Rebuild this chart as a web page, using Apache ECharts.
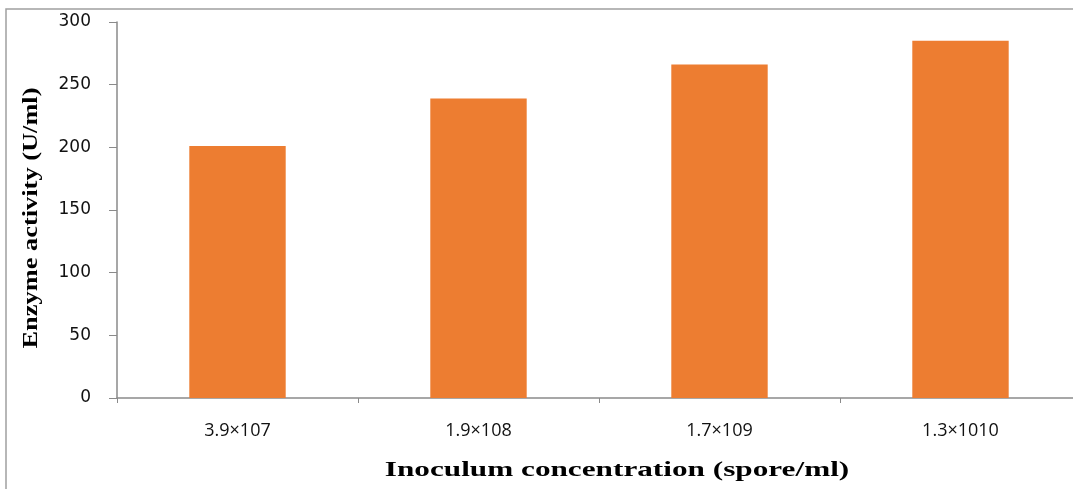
<!DOCTYPE html>
<html>
<head>
<meta charset="utf-8">
<script src="https://cdn.jsdelivr.net/npm/echarts@6/dist/echarts.min.js"></script>
<style>
html,body{margin:0;padding:0;background:#fff;}
#chart{width:1073px;height:489px;}
</style>
</head>
<body>
<div id="chart"></div>
<script>
const categories = ['3.9×107', '1.9×108', '1.7×109', '1.3×1010'];
const enzymeActivity = [201, 239, 266, 285];
const yTickLabels = ['0', '50', '100', '150', '200', '250', '300'];
const xTitle = 'Inoculum concentration (spore/ml)';
const yTitle = 'Enzyme activity (U/ml)';

const chart = echarts.init(document.getElementById('chart'), null, {renderer: 'canvas'});
chart.setOption({
  backgroundColor: '#ffffff',
  animation: false,
  grid: {left: 117, width: 964, top: 22, bottom: 91, containLabel: false, outerBoundsMode: 'none'},
  xAxis: {
    type: 'category',
    data: categories,
    axisLine: {show: true, lineStyle: {color: '#8a8a8a', width: 1.5}},
    axisTick: {show: true, length: 5, lineStyle: {color: '#8a8a8a', width: 1}},
    axisLabel: {color: '#111', fontFamily: 'Open Sans', fontSize: 18, margin: 24},
    splitLine: {show: false}
  },
  yAxis: {
    type: 'value',
    min: 0, max: 300, interval: 50,
    axisLine: {show: true, lineStyle: {color: '#8a8a8a', width: 1.5}},
    axisTick: {show: true, length: 8, lineStyle: {color: '#8a8a8a', width: 1}},
    axisLabel: {
      color: '#111', fontFamily: 'DejaVu Sans', fontSize: 17, margin: 26,
      formatter: function (v) { return yTickLabels[Math.round(v / 50)]; }
    },
    splitLine: {show: false}
  },
  series: [{
    type: 'bar',
    data: enzymeActivity,
    barWidth: '40%',
    itemStyle: {color: '#ED7D31'}
  }],
  graphic: [
    {
      type: 'rect', silent: true, z: -1,
      shape: {x: 6, y: 9, width: 1200, height: 600},
      style: {fill: 'none', stroke: '#a0a0a0', lineWidth: 1.5}
    },
    {
      type: 'text', x: 617, y: 470, scaleX: 1.42,
      style: {text: xTitle, font: 'bold 22px "Liberation Serif"', fill: '#000', align: 'center', verticalAlign: 'middle'}
    },
    {
      type: 'text', x: 31, y: 218, rotation: Math.PI / 2, scaleX: 1.2,
      style: {text: yTitle, font: 'bold 22px "Liberation Serif"', fill: '#000', align: 'center', verticalAlign: 'middle'}
    }
  ]
});
</script>
</body>
</html>
